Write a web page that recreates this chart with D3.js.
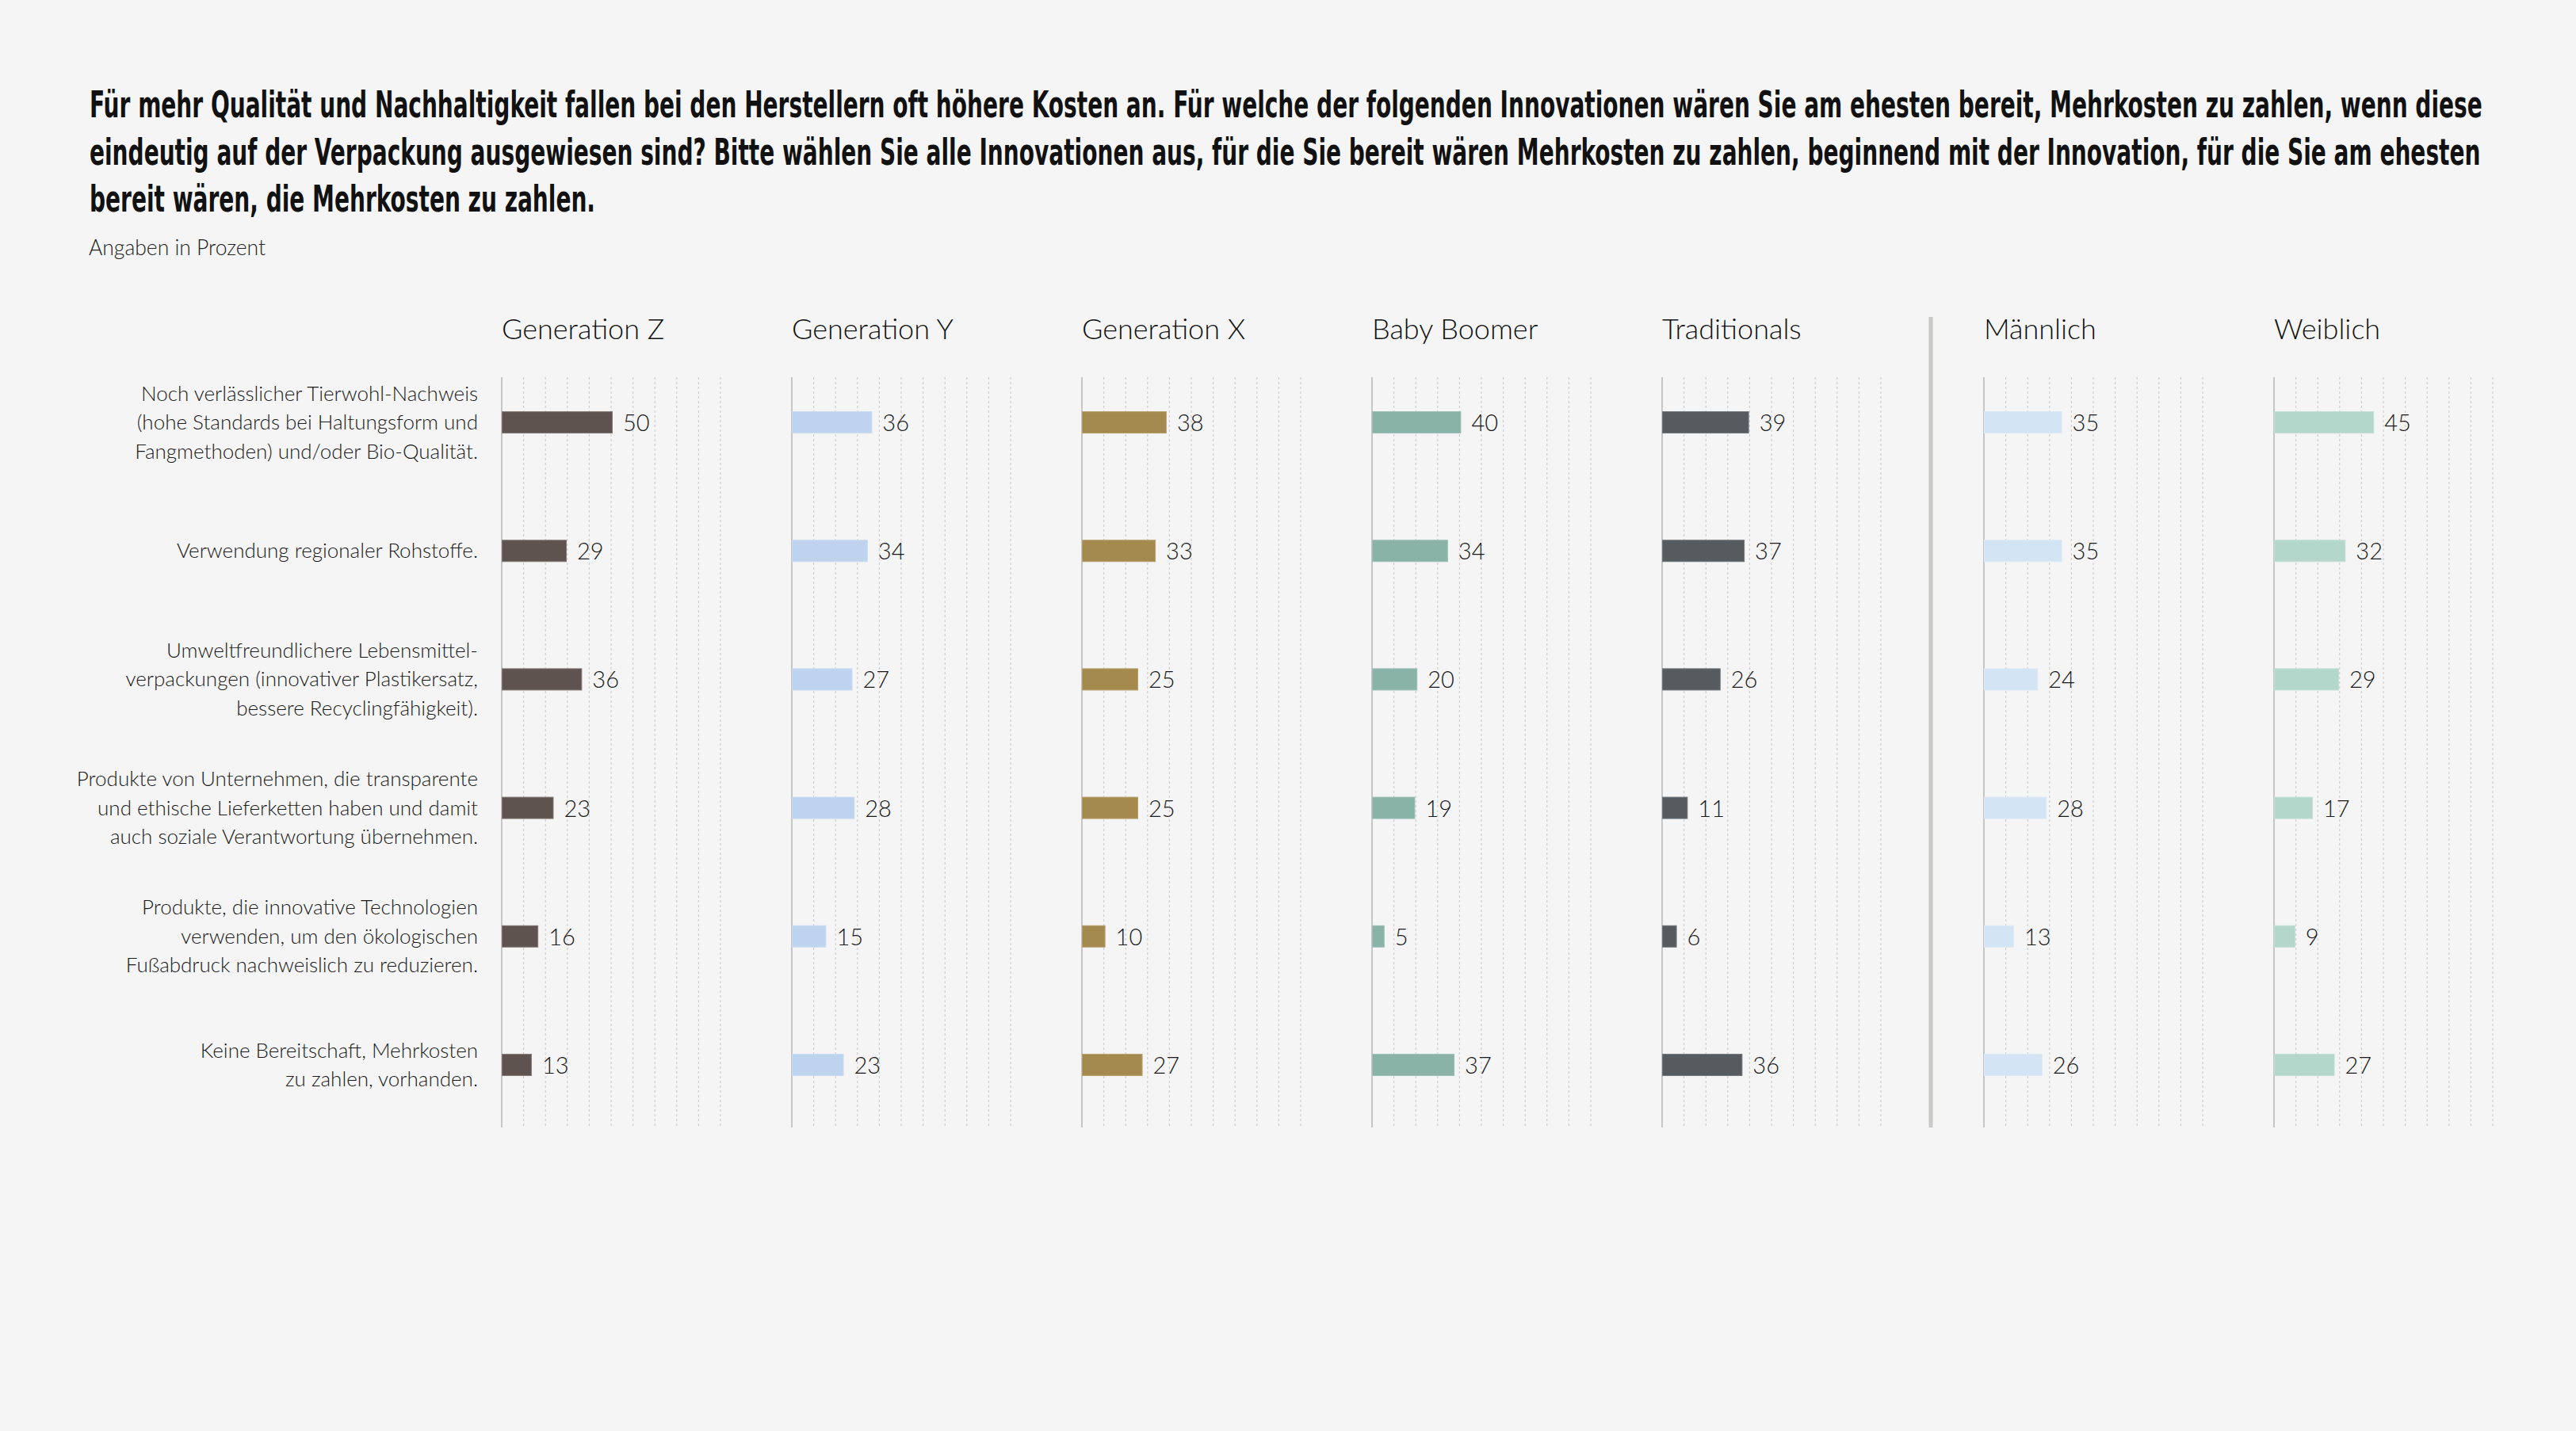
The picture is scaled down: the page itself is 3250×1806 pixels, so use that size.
<!DOCTYPE html>
<html>
<head>
<meta charset="utf-8">
<script src="https://cdn.jsdelivr.net/npm/d3@7"></script>
<style>
  html, body { margin: 0; padding: 0; background: #f5f5f5; }
  svg { display: block; }
</style>
</head>
<body>
<div id="chart"></div>
<script>
const titleLines = [
  "Für mehr Qualität und Nachhaltigkeit fallen bei den Herstellern oft höhere Kosten an. Für welche der folgenden Innovationen wären Sie am ehesten bereit, Mehrkosten zu zahlen, wenn diese",
  "eindeutig auf der Verpackung ausgewiesen sind? Bitte wählen Sie alle Innovationen aus, für die Sie bereit wären Mehrkosten zu zahlen, beginnend mit der Innovation, für die Sie am ehesten",
  "bereit wären, die Mehrkosten zu zahlen."
];
const subtitle = "Angaben in Prozent";

const categories = [
  ["Noch verlässlicher Tierwohl-Nachweis", "(hohe Standards bei Haltungsform und", "Fangmethoden) und/oder Bio-Qualität."],
  ["Verwendung regionaler Rohstoffe."],
  ["Umweltfreundlichere Lebensmittel-", "verpackungen (innovativer Plastikersatz,", "bessere Recyclingfähigkeit)."],
  ["Produkte von Unternehmen, die transparente", "und ethische Lieferketten haben und damit", "auch soziale Verantwortung übernehmen."],
  ["Produkte, die innovative Technologien", "verwenden, um den ökologischen", "Fußabdruck nachweislich zu reduzieren."],
  ["Keine Bereitschaft, Mehrkosten", "zu zahlen, vorhanden."]
];

const groups = ["Generation Z", "Generation Y", "Generation X", "Baby Boomer", "Traditionals", "Männlich", "Weiblich"];
const genZ        = [50, 29, 36, 23, 16, 13];
const genY        = [36, 34, 27, 28, 15, 23];
const genX        = [38, 33, 25, 25, 10, 27];
const babyBoomer  = [40, 34, 20, 19, 5, 37];
const traditionals= [39, 37, 26, 11, 6, 36];
const maennlich   = [35, 35, 24, 28, 13, 26];
const weiblich    = [45, 32, 29, 17, 9, 27];
const seriesValues = [genZ, genY, genX, babyBoomer, traditionals, maennlich, weiblich];
const gridTicks = [10, 20, 30, 40, 50, 60, 70, 80, 90, 100];

const colors = ["#5f534f", "#bed3ee", "#a58a50", "#8ab3a8", "#565b5f", "#d3e4f4", "#b3d7cb"];
const strokes = ["#857975", "#c9dbf1", "#b79f6c", "#9cc0b6", "#71777b", "#dbe9f6", "#c1dfd5"];

const W = 3250, H = 1806;
const svg = d3.select("#chart").append("svg").attr("width", W).attr("height", H);
svg.append("rect").attr("width", W).attr("height", H).attr("fill", "#f5f5f5");

// Title: measure natural width, fit width by font size, restore glyph height by vertical scaling
const titleFont = "'Liberation Sans Narrow', 'DejaVu Sans Condensed', 'Liberation Sans', sans-serif";
const baseSize = 47, targetWidth = 3020;
const probe = svg.append("text").attr("font-family", titleFont).attr("font-weight", 700)
  .attr("font-size", baseSize).text(titleLines[0]);
const natural = probe.node().getComputedTextLength();
probe.remove();
const fitSize = baseSize * targetWidth / natural;
const sy = baseSize / fitSize;
titleLines.forEach((t, i) => {
  svg.append("text")
    .attr("transform", `translate(113,${148 + i * 59.5}) scale(1,${sy})`)
    .attr("font-family", titleFont)
    .attr("font-weight", 700)
    .attr("font-size", fitSize)
    .attr("fill", "#111")
    .text(t);
});
svg.append("text")
  .attr("x", 112).attr("y", 322)
  .attr("font-family", "Lato, 'Open Sans', sans-serif").attr("font-weight", 300)
  .attr("font-size", 26.5).attr("fill", "#222")
  .text(subtitle);

// Scales
const panelX = d3.scaleOrdinal().domain(groups).range([633, 999, 1365, 1731, 2097, 2503, 2869]);
const x = d3.scaleLinear().domain([0, 100]).range([0, 276]);
const y = d3.scaleBand().domain(d3.range(categories.length)).range([452, 1425]).padding(0);
const barH = 27;
const gridTop = 476, gridBottom = 1423;

// Category labels
const lab = svg.append("g").attr("font-family", "Lato, 'Open Sans', sans-serif")
  .attr("font-weight", 300).attr("font-size", 26).attr("fill", "#1a1a1a").attr("text-anchor", "end");
categories.forEach((lines, i) => {
  const cy = y(i) + y.bandwidth() / 2;
  const t = lab.append("text").attr("x", 603).attr("y", cy);
  lines.forEach((ln, j) => {
    t.append("tspan").attr("x", 603)
      .attr("y", cy + (j - (lines.length - 1) / 2) * 36.5 + 9)
      .text(ln);
  });
});

// Separator
svg.append("line")
  .attr("x1", 2436).attr("x2", 2436).attr("y1", 400).attr("y2", gridBottom)
  .attr("stroke", "#c9cac8").attr("stroke-width", 5);

// Panels
groups.forEach((g, gi) => {
  const px = panelX(g);
  const p = svg.append("g").attr("transform", `translate(${px},0)`);
  p.append("text").attr("x", 0).attr("y", 428)
    .attr("font-family", "Lato, 'Open Sans', sans-serif").attr("font-weight", 300)
    .attr("font-size", 36).attr("fill", "#111").text(g);

  p.selectAll("line.grid").data(gridTicks).join("line").attr("class", "grid")
    .attr("x1", d => x(d)).attr("x2", d => x(d))
    .attr("y1", gridTop).attr("y2", gridBottom)
    .attr("stroke", "#cfcfcf").attr("stroke-width", 1.2).attr("stroke-dasharray", "3,3");
  p.append("line").attr("x1", x(0)).attr("x2", x(0)).attr("y1", gridTop).attr("y2", gridBottom)
    .attr("stroke", "#c6c6c6").attr("stroke-width", 2);

  const vals = seriesValues[gi];
  p.selectAll("rect.bar").data(vals).join("rect").attr("class", "bar")
    .attr("x", x(0) + 0.5)
    .attr("y", (d, i) => y(i) + y.bandwidth() / 2 - barH / 2)
    .attr("width", d => x(d) + 1)
    .attr("height", barH)
    .attr("fill", colors[gi])
    .attr("stroke", strokes[gi]).attr("stroke-width", 1);

  p.selectAll("text.val").data(vals).join("text").attr("class", "val")
    .attr("x", d => x(d) + 15)
    .attr("y", (d, i) => y(i) + y.bandwidth() / 2 + 11)
    .attr("font-family", "Lato, 'Open Sans', sans-serif").attr("font-weight", 300)
    .attr("font-size", 29).attr("fill", "#1a1a1a")
    .text(d => d);
});
</script>
</body>
</html>
